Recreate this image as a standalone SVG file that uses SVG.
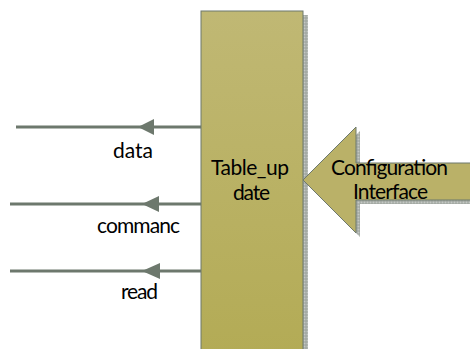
<svg xmlns="http://www.w3.org/2000/svg" width="470" height="349" viewBox="0 0 470 349">
<style>
.lbl{font-family:Lato,"Open Sans",sans-serif;font-size:21px;fill:#000}
.conn{stroke:#6d786d;stroke-width:3;fill:none}
.head{fill:#6d786d}
.blk{stroke:#6d786d;stroke-width:1}
</style>
<defs>
<linearGradient id="g1" x1="0" y1="0" x2="0" y2="1">
<stop offset="0" stop-color="#c0b874"/>
<stop offset="1" stop-color="#b3ab55"/>
</linearGradient>
<pattern id="sh" width="3" height="3" patternUnits="userSpaceOnUse">
<rect width="3" height="3" fill="#9aa09a"/>
<rect x="0.5" y="0.5" width="2" height="2" fill="#c4c8c4"/>
</pattern>
</defs>
<g id="connectors">
<line class="conn" x1="16" y1="127" x2="201" y2="127"/>
<polygon class="head" points="138,127 154,119 154,135"/>
<line class="conn" x1="10" y1="204" x2="201" y2="204"/>
<polygon class="head" points="142,204 159,196 159,212"/>
<line class="conn" x1="10" y1="271" x2="201" y2="271"/>
<polygon class="head" points="142,271 160,263 160,279"/>
</g>
<g id="labels">
<text class="lbl" x="113" y="158" textLength="40">data</text>
<text class="lbl" x="97" y="233" textLength="83">commanc</text>
<text class="lbl" x="121" y="299" textLength="37">read</text>
</g>
<g id="table_update">
<rect x="303" y="15" width="5" height="340" fill="url(#sh)"/>
<rect class="blk" x="201" y="11" width="102" height="345" fill="url(#g1)" stroke-width="1.5"/>
<text class="lbl" x="211" y="175" textLength="78">Table_up</text>
<text class="lbl" x="233" y="200" textLength="37">date</text>
</g>
<g id="config_interface">
<polygon points="307,184 360,131 360,167 474,167 474,204 360,204 360,237" fill="url(#sh)"/>
<polygon class="blk" points="303,180 356,127 356,163 472,163 472,200 356,200 356,233" fill="#bab168"/>
<text class="lbl" x="331" y="175" textLength="117">Configuration</text>
<text class="lbl" x="353" y="199" textLength="75">Interface</text>
</g>
</svg>
